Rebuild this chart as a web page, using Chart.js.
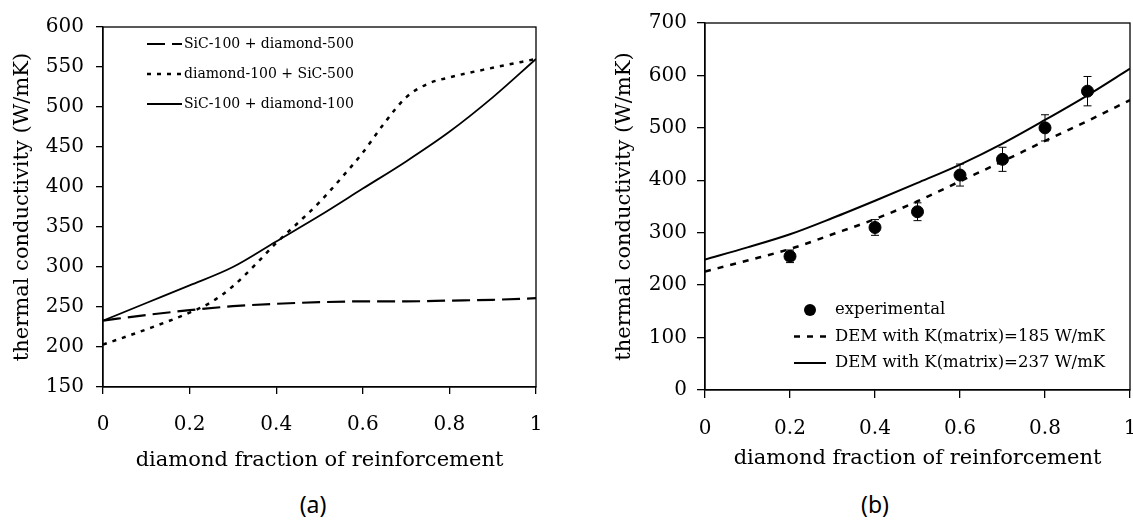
<!DOCTYPE html>
<html>
<head>
<meta charset="utf-8">
<script src="https://cdn.jsdelivr.net/npm/chart.js@4.4.0/dist/chart.umd.min.js"></script>
<style>
  html, body { margin: 0; padding: 0; background: #fff; overflow: hidden; }
  body { width: 1133px; height: 521px; position: relative; }
  canvas { position: absolute; top: 0; }
  #chartA { left: 0; }
  #chartB { left: 566px; }
  .cap { position: absolute; top: 488px; font: 23px "Noto Sans", sans-serif; transform: translateX(-50%); }
</style>
</head>
<body>
<canvas id="chartA" width="566" height="480"></canvas>
<canvas id="chartB" width="580" height="480"></canvas>
<div class="cap" style="left:313px">(a)</div>
<div class="cap" style="left:875px">(b)</div>
<script>
// panel (a)
const fracA = [0, 0.1, 0.2, 0.3, 0.4, 0.5, 0.6, 0.7, 0.8, 0.9, 1];
const sicDia500 = [233, 240, 246, 251, 254, 256, 257, 257, 258, 259, 261];
const sicDia100 = [233, 255, 277, 300, 332, 364, 398, 432, 469, 512, 560];
const fracDotA = [0, 0.1, 0.2, 0.25, 0.3, 0.35, 0.4, 0.45, 0.5, 0.55, 0.6, 0.65, 0.7, 0.75, 0.8, 0.9, 1];
const diaSic500 = [203, 222, 243, 256, 276, 302, 330, 355, 381, 411, 443, 480, 512, 529, 537, 549, 560];
const yTicksA = [150, 600, 50];

// panel (b)
const fracB = [0, 0.1, 0.2, 0.3, 0.4, 0.5, 0.6, 0.7, 0.8, 0.9, 1];
const dem185 = [226, 247, 269, 297, 326, 360, 398, 436, 475, 513, 553];
const dem237 = [249, 272, 297, 328, 361, 395, 430, 470, 515, 562, 613];
const expX = [0.2, 0.4, 0.5, 0.6, 0.7, 0.8, 0.9];
const expY = [255, 310, 340, 410, 440, 500, 570];
const expErr = [12, 15, 17, 21, 23, 25, 28];
const yTicksB = [0, 700, 100];

const xTickLabels = ['0', '0.2', '0.4', '0.6', '0.8', '1'];
const xTitle = 'diamond fraction of reinforcement';
const yTitle = 'thermal conductivity (W/mK)';

Chart.defaults.color = '#000';
Chart.defaults.font.family = '"DejaVu Serif", serif';

const pts = (xs, ys) => xs.map((x, i) => ({ x: x, y: ys[i] }));

const frame = {
  id: 'frame',
  afterDraw(chart) {
    const a = chart.chartArea, ctx = chart.ctx;
    ctx.save();
    ctx.strokeStyle = '#000';
    ctx.lineWidth = 1.3;
    ctx.strokeRect(a.left, a.top, a.right - a.left, a.bottom - a.top);
    ctx.restore();
  }
};

const errorBars = {
  id: 'errorBars',
  afterDatasetsDraw(chart, args, o) {
    if (!o.values) return;
    const ds = chart.data.datasets[o.dataset];
    const sx = chart.scales.x, sy = chart.scales.y, ctx = chart.ctx;
    ctx.save();
    ctx.strokeStyle = '#000';
    ctx.lineWidth = 1;
    ds.data.forEach((p, i) => {
      const px = sx.getPixelForValue(p.x);
      const top = sy.getPixelForValue(p.y + o.values[i]);
      const bot = sy.getPixelForValue(p.y - o.values[i]);
      ctx.beginPath();
      ctx.moveTo(px, top); ctx.lineTo(px, bot);
      ctx.moveTo(px - 4, top); ctx.lineTo(px + 4, top);
      ctx.moveTo(px - 4, bot); ctx.lineTo(px + 4, bot);
      ctx.stroke();
    });
    ctx.restore();
  }
};

// legend drawn inside the plot, styles taken from the datasets
const boxLegend = {
  id: 'boxLegend',
  afterDraw(chart, args, o) {
    const ctx = chart.ctx;
    ctx.save();
    ctx.font = o.font;
    ctx.fillStyle = '#000';
    ctx.textBaseline = 'middle';
    chart.data.datasets.forEach((ds, i) => {
      const y = o.y + i * o.gap;
      if (ds.showLine === false) {
        ctx.beginPath();
        ctx.arc(o.x + o.sample / 2, y, ds.pointRadius, 0, Math.PI * 2);
        ctx.fill();
      } else {
        ctx.beginPath();
        ctx.strokeStyle = ds.borderColor;
        ctx.lineWidth = ds.borderWidth;
        ctx.setLineDash(ds.borderDash || []);
        ctx.moveTo(o.x, y);
        ctx.lineTo(o.x + o.sample, y);
        ctx.stroke();
        ctx.setLineDash([]);
      }
      ctx.fillText(ds.label, o.x + o.sample + o.textGap, y);
    });
    ctx.restore();
  }
};

function lineSet(label, data, dash, width) {
  return {
    label: label, data: data, borderColor: '#000', borderWidth: width,
    borderDash: dash, pointRadius: 0, fill: false, cubicInterpolationMode: 'monotone'
  };
}

function scales(yr, g) {
  return {
    x: {
      type: 'linear', min: 0, max: 1,
      ticks: {
        stepSize: 0.2, padding: 19, font: { size: 20 }, maxRotation: 0,
        callback: (v, i) => xTickLabels[i]
      },
      grid: { drawOnChartArea: false, color: '#000', tickLength: g.tickX, lineWidth: 1.3 },
      border: { color: '#000', width: 1.3 },
      title: { display: true, text: xTitle, font: { size: 21 }, padding: { top: 0, bottom: g.xTitlePad } },
      // fixed size, and no extra side padding for the end labels
      afterFit: s => { s.height = g.xh; s.paddingLeft = 0; s.paddingRight = 0; }
    },
    y: {
      min: yr[0], max: yr[1],
      ticks: { stepSize: yr[2], padding: g.yPad, font: { size: 20 } },
      grid: { drawOnChartArea: false, color: '#000', tickLength: g.tickY, lineWidth: 1.3 },
      border: { color: '#000', width: 1.3 },
      title: { display: true, text: yTitle, font: { size: 21 }, padding: { top: g.yTitlePad, bottom: 0 } },
      afterFit: s => { s.width = g.yw; }
    }
  };
}

new Chart(document.getElementById('chartA'), {
  type: 'line',
  data: {
    datasets: [
      lineSet('SiC-100 + diamond-500', pts(fracA, sicDia500), [18, 7], 2.2),
      lineSet('diamond-100 + SiC-500', pts(fracDotA, diaSic500), [4, 6], 2.5),
      lineSet('SiC-100 + diamond-100', pts(fracA, sicDia100), [], 1.8)
    ]
  },
  options: {
    responsive: false, animation: false, events: [],
    layout: { padding: { top: 27, right: 30, left: 0, bottom: 0 } },
    scales: scales(yTicksA, { tickX: 7, tickY: 7, yPad: 12, xh: 93, yw: 103, xTitlePad: 7, yTitlePad: 10 }),
    plugins: {
      legend: { display: false }, tooltip: { enabled: false },
      boxLegend: { x: 147, y: 44, gap: 30, sample: 35, textGap: 2, font: '14px "DejaVu Serif"' }
    }
  },
  plugins: [frame, boxLegend]
});

new Chart(document.getElementById('chartB'), {
  type: 'line',
  data: {
    datasets: [
      { label: 'experimental', data: pts(expX, expY), showLine: false, pointRadius: 6,
        backgroundColor: '#000', borderColor: '#000' },
      lineSet('DEM with K(matrix)=185 W/mK', pts(fracB, dem185), [6, 7], 2.5),
      lineSet('DEM with K(matrix)=237 W/mK', pts(fracB, dem237), [], 2)
    ]
  },
  options: {
    responsive: false, animation: false, events: [],
    layout: { padding: { top: 23, right: 16, left: 0, bottom: 0 } },
    scales: scales(yTicksB, { tickX: 8, tickY: 8, yPad: 10, xh: 90, yw: 139, xTitlePad: 9, yTitlePad: 46 }),
    plugins: {
      legend: { display: false }, tooltip: { enabled: false },
      errorBars: { dataset: 0, values: expErr },
      boxLegend: { x: 228, y: 310, gap: 26.5, sample: 32, textGap: 9, font: '16.5px "DejaVu Serif"' }
    }
  },
  plugins: [frame, errorBars, boxLegend]
});
</script>
</body>
</html>
